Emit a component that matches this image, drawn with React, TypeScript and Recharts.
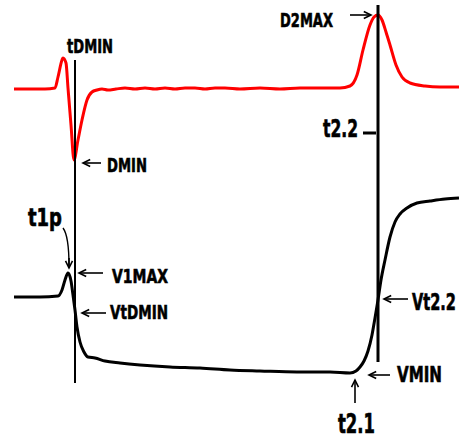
import React from 'react';
import { LineChart, Line, XAxis, YAxis, ReferenceLine } from 'recharts';

// derivative trace (red): sample position and amplitude (baseline = 0)
const dTime = [14, 30, 45, 55, 58, 62, 63, 66, 68, 71, 74, 78, 82, 87, 92, 97, 102, 108, 116, 125, 135, 145, 155, 165, 175, 185, 195, 205, 215, 225, 240, 260, 280, 300, 320, 340, 350, 357, 363, 370, 374, 378, 382, 386, 390, 396, 402, 410, 425, 440, 459];
const dValue = [-1, -1, -1, 0, 11, 28, 30, 25, 0, -37, -72, -52, -32, -12, -4, -2, -1, -2, -1, 0, -1, 0, -1, 0, -1, 0, 0, -1, 0, 0, -1, 0, -1, 0, 0, 0, 2, 13, 38, 63, 71, 73, 68, 56, 43, 23, 11, 5, 2, 1, 1];

// voltage trace (black): sample position and amplitude (VMIN = 0)
const vTime = [14, 40, 58, 62, 65, 68, 71, 73, 75, 77, 80, 84, 88, 95, 105, 120, 140, 170, 200, 230, 260, 297, 330, 350, 356, 360, 364, 368, 372, 375, 378, 381, 385, 390, 395, 400, 407, 417, 430, 445, 459];
const vValue = [75, 75, 76, 82, 92, 99, 91, 77, 62, 45, 30, 20, 15, 14, 11, 9, 7, 5, 4, 2, 1, 0, 0, -1, 1, 5, 11, 21, 37, 54, 72, 92, 112, 135, 150, 158, 164, 169, 171, 173, 174];

const dData = dTime.map((t, i) => ({ t, d: dValue[i] }));
const vData = vTime.map((t, i) => ({ t, v: vValue[i] }));

const FONT = "'Liberation Sans Narrow', 'DejaVu Sans Condensed', 'Arial Narrow', sans-serif";

let ctx: CanvasRenderingContext2D | null = null;
const measure = (s: string, size: number) => {
    if (!ctx) ctx = document.createElement('canvas').getContext('2d');
    if (!ctx) return s.length * size * 0.6;
    ctx.font = `bold ${size}px ${FONT}`;
    return ctx.measureText(s).width;
};

const Arrow = ({ x1, y1, x2, y2 }: { x1: number; y1: number; x2: number; y2: number }) => {
    const a = Math.atan2(y2 - y1, x2 - x1);
    const len = 8;
    const spread = 0.45;
    const p1 = [x2 - len * Math.cos(a - spread), y2 - len * Math.sin(a - spread)];
    const p2 = [x2 - len * Math.cos(a + spread), y2 - len * Math.sin(a + spread)];
    return (
        <g stroke="#000" strokeWidth={1.6} fill="none">
            <line x1={x1} y1={y1} x2={x2} y2={y2} />
            <polyline points={`${p1[0]},${p1[1]} ${x2},${y2} ${p2[0]},${p2[1]}`} />
        </g>
    );
};

// condensed bold label squeezed to the width it has in the reference
const Label = ({ x, y, size = 20, w, children }: { x: number; y: number; size?: number; w: number; children: string }) => {
    const sx = w / measure(children, size);
    return (
        <g transform={`translate(${x},${y}) scale(${sx},1)`}>
            <text x={0} y={0} fontSize={size} fontWeight="bold" fontFamily={FONT} fill="#000" stroke="#000" strokeWidth={0.6}>
                {children}
            </text>
        </g>
    );
};

const Annotations = () => (
    <svg width={459} height={438} style={{ position: 'absolute', left: 0, top: 0, pointerEvents: 'none' }}>
        <Label x={67} y={53} w={46}>tDMIN</Label>
        <Arrow x1={101} y1={163} x2={83} y2={163} />
        <Label x={107} y={172} w={40}>DMIN</Label>

        <Label x={28} y={226} size={24} w={34}>t1p</Label>
        <path d="M63,228 Q69,236 69,266" stroke="#000" strokeWidth={1.4} fill="none" />
        <Arrow x1={69} y1={258} x2={69} y2={268} />

        <Arrow x1={103} y1={273} x2={79} y2={273} />
        <Label x={112} y={283} w={56}>V1MAX</Label>
        <Arrow x1={106} y1={313} x2={82} y2={313} />
        <Label x={110} y={319} w={58}>VtDMIN</Label>

        <Label x={280} y={27} w={53}>D2MAX</Label>
        <Arrow x1={350} y1={15} x2={371} y2={15} />

        <Label x={323} y={137} size={25} w={35}>t2.2</Label>

        <Arrow x1={408} y1={299} x2={384} y2={299} />
        <Label x={412} y={310} size={23} w={44}>Vt2.2</Label>

        <Arrow x1={390} y1={375} x2={369} y2={375} />
        <Label x={397} y={382} size={22} w={45}>VMIN</Label>

        <Arrow x1={355} y1={403} x2={355} y2={380} />
        <Label x={338} y={433} size={26} w={37}>t2.1</Label>
    </svg>
);

const App: React.FC = () => (
    <div style={{ position: 'absolute', left: 0, top: 0, width: 459, height: 438, background: '#fff' }}>
        <LineChart width={459} height={438} margin={{ top: 0, right: 0, bottom: 0, left: 0 }}>
            <XAxis type="number" dataKey="t" domain={[0, 459]} hide />
            <YAxis yAxisId="d" type="number" domain={[-350, 88]} hide />
            <YAxis yAxisId="v" type="number" domain={[-66, 372]} hide />
            <Line yAxisId="d" data={dData} dataKey="d" type="monotone" stroke="#ff0000" strokeWidth={3} dot={false} activeDot={false} isAnimationActive={false} />
            <Line yAxisId="v" data={vData} dataKey="v" type="monotone" stroke="#000" strokeWidth={3} dot={false} activeDot={false} isAnimationActive={false} />
            <ReferenceLine yAxisId="d" segment={[{ x: 75, y: 28 }, { x: 75, y: -295 }]} stroke="#000" strokeWidth={2} />
            <ReferenceLine yAxisId="d" segment={[{ x: 378, y: 83 }, { x: 378, y: -274 }]} stroke="#000" strokeWidth={3} />
            <ReferenceLine yAxisId="d" segment={[{ x: 363, y: -45 }, { x: 376, y: -45 }]} stroke="#000" strokeWidth={3} />
        </LineChart>
        <Annotations />
    </div>
);

export default App;
